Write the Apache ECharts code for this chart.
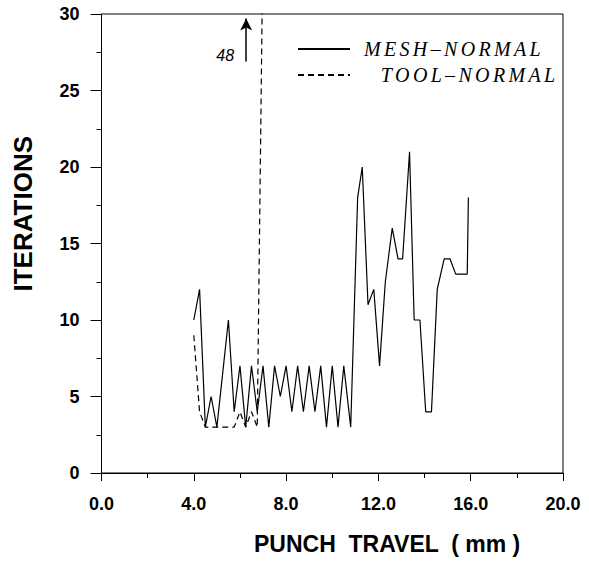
<!DOCTYPE html>
<html>
<head>
<meta charset="utf-8">
<script src="https://cdn.jsdelivr.net/npm/echarts@6/dist/echarts.min.js"></script>
<style>
html,body{margin:0;padding:0;background:#fff;}
#c{width:589px;height:562px;}
</style>
</head>
<body>
<div id="c"></div>
<script>
// Punch travel (mm) vs iterations
const meshX = [4.0,4.25,4.5,4.75,5.0,5.5,5.75,6.0,6.25,6.5,6.75,7.0,7.25,7.5,7.75,8.0,8.25,8.5,8.75,9.0,9.25,9.5,9.75,10.0,10.25,10.5,10.8,11.1,11.3,11.55,11.8,12.05,12.3,12.6,12.85,13.05,13.35,13.55,13.8,14.05,14.3,14.55,14.85,15.1,15.35,15.85,15.9];
const meshY = [10,12,3,5,3,10,4,7,3,7,4,7,3,7,5,7,4,7,4,7,4,7,3,7,3,7,3,18,20,11,12,7,12.5,16,14,14,21,10,10,4,4,12,14,14,13,13,18];
const toolX = [4.0,4.25,4.5,4.75,5.0,5.25,5.5,5.75,6.0,6.25,6.5,6.75,7.1];
const toolY = [9,4,3,3,3,3,3,3,4,3,4,3,48];
const xTicks = [0,4,8,12,16,20];
const yTicks = [0,5,10,15,20,25,30];
const seriesNames = ['MESH-NORMAL','TOOL-NORMAL'];
const legendLabels = ['MESH\u2013NORMAL','TOOL\u2013NORMAL'];
const legendIndent = ['', '\u2002\u2004'];
const peakLabel = '48';
const peakArrow = {x: 6.27, from: 26.9, to: 29.7};
const peakLabelPos = [5.36, 27.3];

const sp = '\u2006';
function spaced(s){ return s.split('').join(sp); }

const chart = echarts.init(document.getElementById('c'), null, {renderer:'svg'});
const tickFont = {fontFamily:'Liberation Sans, Arial, sans-serif', fontWeight:'bold', fontSize:18, color:'#000'};
chart.setOption({
  animation:false,
  backgroundColor:'#fff',
  grid:{left:101.5, right:26, top:14, bottom:89, show:true, borderColor:'#000', borderWidth:1},
  xAxis:{type:'value', min:xTicks[0], max:xTicks[xTicks.length-1], interval:4,
    axisLine:{lineStyle:{color:'#000', width:1}},
    axisTick:{show:true, length:8, lineStyle:{color:'#000'}},
    minorTick:{show:true, splitNumber:2, length:5, lineStyle:{color:'#000'}},
    splitLine:{show:false},
    axisLabel:Object.assign({margin:22, formatter:v=>v.toFixed(1)}, tickFont)},
  yAxis:{type:'value', min:yTicks[0], max:yTicks[yTicks.length-1], interval:5,
    axisLine:{show:true, lineStyle:{color:'#000', width:1}},
    axisTick:{show:true, length:11, lineStyle:{color:'#000'}},
    minorTick:{show:true, splitNumber:2, length:5, lineStyle:{color:'#000'}},
    splitLine:{show:false},
    axisLabel:Object.assign({margin:22}, tickFont)},
  legend:{orient:'vertical', left:292, top:34, itemWidth:52, itemHeight:14, itemGap:6,
    data:seriesNames,
    itemStyle:{opacity:0},
    formatter:n=>{const i=seriesNames.indexOf(n); return legendIndent[i]+spaced(legendLabels[i]);},
    textStyle:{fontFamily:'Liberation Serif, Times New Roman, serif', fontStyle:'italic', fontSize:20, color:'#000', padding:[0,0,0,9]}},
  graphic:[
    {type:'text', left:10, top:136, rotation:Math.PI/2, style:{text:'ITERATIONS', font:'bold 26px "Liberation Sans", Arial, sans-serif', fill:'#000'}},
    {type:'text', left:254, top:532, style:{text:'PUNCH  TRAVEL  ( mm )', font:'bold 23px "Liberation Sans", Arial, sans-serif', fill:'#000'}}
  ],
  series:[
    {name:seriesNames[0], type:'line', symbol:'none', data:meshX.map((x,i)=>[x,meshY[i]]),
      lineStyle:{color:'#000', width:1.2}, itemStyle:{color:'#000'},
      markPoint:{symbol:'circle', symbolSize:2, itemStyle:{color:'rgba(0,0,0,0)'},
        data:[{coord:peakLabelPos, value:peakLabel}],
        label:{show:true, position:'inside', formatter:peakLabel, fontFamily:'Liberation Sans, Arial, sans-serif', fontStyle:'italic', fontSize:16, color:'#000'}},
      markLine:{silent:true, symbol:['none','arrow'], symbolSize:[9,12], label:{show:false},
        lineStyle:{color:'#000', type:'solid', width:1.5},
        data:[[{coord:[peakArrow.x, peakArrow.from]},{coord:[peakArrow.x, peakArrow.to]}]]}},
    {name:seriesNames[1], type:'line', symbol:'none', data:toolX.map((x,i)=>[x,toolY[i]]),
      lineStyle:{color:'#000', width:1.2, type:[6,4]}, itemStyle:{color:'#000'}}
  ]
});
</script>
</body>
</html>
